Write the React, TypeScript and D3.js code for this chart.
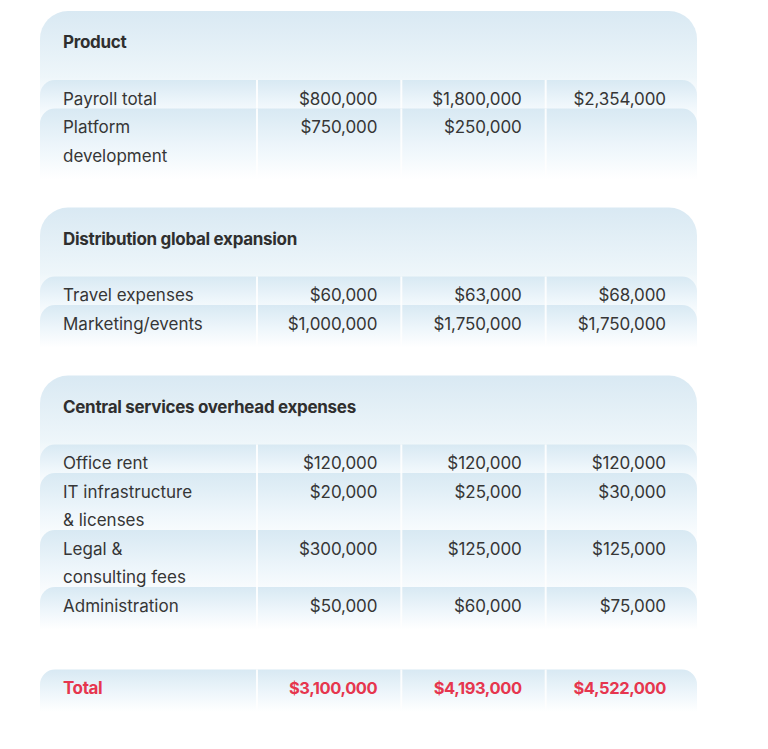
import React from "react";
import * as d3 from "d3";

const sectionTitles = ["Product", "Distribution global expansion", "Central services overhead expenses"];

const productLabels = [["Payroll total"], ["Platform", "development"]];
const productValues = [
  [800000, 1800000, 2354000],
  [750000, 250000, null],
];

const distributionLabels = [["Travel expenses"], ["Marketing/events"]];
const distributionValues = [
  [60000, 63000, 68000],
  [1000000, 1750000, 1750000],
];

const centralLabels = [["Office rent"], ["IT infrastructure", "& licenses"], ["Legal &", "consulting fees"], ["Administration"]];
const centralValues = [
  [120000, 120000, 120000],
  [20000, 25000, 30000],
  [300000, 125000, 125000],
  [50000, 60000, 75000],
];

const totalLabel = "Total";
const totalValues = [3100000, 4193000, 4522000];

const W = 768;
const H = 749;
const left = 40;
const right = 697;
const labelEdge = 257;
const lineH = 28.5;
const font = "Inter, 'Noto Sans', sans-serif";
const ink = "#363636";
const red = "#e6364e";

const fmt = d3.format("$,");
const colScale = d3.scaleBand<number>().domain([0, 1, 2]).range([labelEdge, 690]);

// rounded top corners only
function topRounded(x0: number, y0: number, x1: number, h: number, r: number) {
  const p = d3.path();
  p.moveTo(x0, y0 + h);
  p.lineTo(x0, y0 + r);
  p.arcTo(x0, y0, x0 + r, y0, r);
  p.lineTo(x1 - r, y0);
  p.arcTo(x1, y0, x1, y0 + r, r);
  p.lineTo(x1, y0 + h);
  p.closePath();
  return p.toString();
}

function Row({ top, labels, values, color, bold }: any) {
  const h = labels.length * lineH;
  const bandH = Math.max(h, lineH) + 14;
  const cy = top + 18.5;
  const seps = [labelEdge, colScale(1) as number, colScale(2) as number];
  return (
    <g>
      <path d={topRounded(left, top, right, bandH, 15)} fill="url(#rowGrad)" />
      {seps.map((x, i) => (
        <line key={i} x1={x} x2={x} y1={top} y2={top + bandH} stroke="#ffffff" strokeWidth={2} opacity={0.9} />
      ))}
      {labels.map((l: string, i: number) => (
        <text key={i} x={63} y={cy + i * lineH} dominantBaseline="central" fill={color} fontFamily={font}
          fontSize={17} fontWeight={bold ? 700 : 400} letterSpacing={bold ? -0.4 : 0}>{l}</text>
      ))}
      {values.map((v: number | null, i: number) => v == null ? null : (
        <text key={"v" + i} x={(colScale(i) as number) + colScale.bandwidth() - 24} y={cy} textAnchor="end"
          dominantBaseline="central" fill={color} fontFamily={font} fontSize={bold ? 16.5 : 17}
          fontWeight={bold ? 700 : 400} letterSpacing={bold ? -0.4 : -0.1}>{fmt(v)}</text>
      ))}
    </g>
  );
}

export default function App() {
  const sections = [
    { title: sectionTitles[0], labels: productLabels, values: productValues },
    { title: sectionTitles[1], labels: distributionLabels, values: distributionValues },
    { title: sectionTitles[2], labels: centralLabels, values: centralValues },
  ];

  let y = 11;
  const blocks: any[] = [];
  sections.forEach((s, si) => {
    const headerTop = y;
    let rowTop = headerTop + 69;
    const rows: any[] = [];
    s.labels.forEach((lab, ri) => {
      rows.push(<Row key={ri} top={rowTop} labels={lab} values={s.values[ri]} color={ink} />);
      rowTop += lab.length * lineH;
    });
    blocks.push(
      <g key={si}>
        <path d={topRounded(left, headerTop, right, 110, 28)} fill="url(#headGrad)" />
        <text x={63} y={headerTop + 31} dominantBaseline="central" fill="#2f2f2f" fontFamily={font}
          fontSize={17} fontWeight={700} letterSpacing={-0.3}>{s.title}</text>
        {rows}
      </g>
    );
    y = rowTop + 42;
  });
  const totalTop = y + 12;

  return (
    <svg width={W} height={H} style={{ position: "absolute", left: 0, top: 0, background: "#fff" }}>
      <defs>
        <linearGradient id="headGrad" x1="0" y1="0" x2="0" y2="1">
          <stop offset="0" stopColor="#d9e9f3" />
          <stop offset="0.6" stopColor="#eef6fa" />
          <stop offset="1" stopColor="#ffffff" stopOpacity={0} />
        </linearGradient>
        <linearGradient id="rowGrad" x1="0" y1="0" x2="0" y2="1">
          <stop offset="0" stopColor="#d8e9f3" />
          <stop offset="0.55" stopColor="#eef6fb" />
          <stop offset="1" stopColor="#ffffff" />
        </linearGradient>
      </defs>
      <rect width={W} height={H} fill="#ffffff" />
      {blocks}
      <Row top={totalTop} labels={[totalLabel]} values={totalValues} color={red} bold />
    </svg>
  );
}
